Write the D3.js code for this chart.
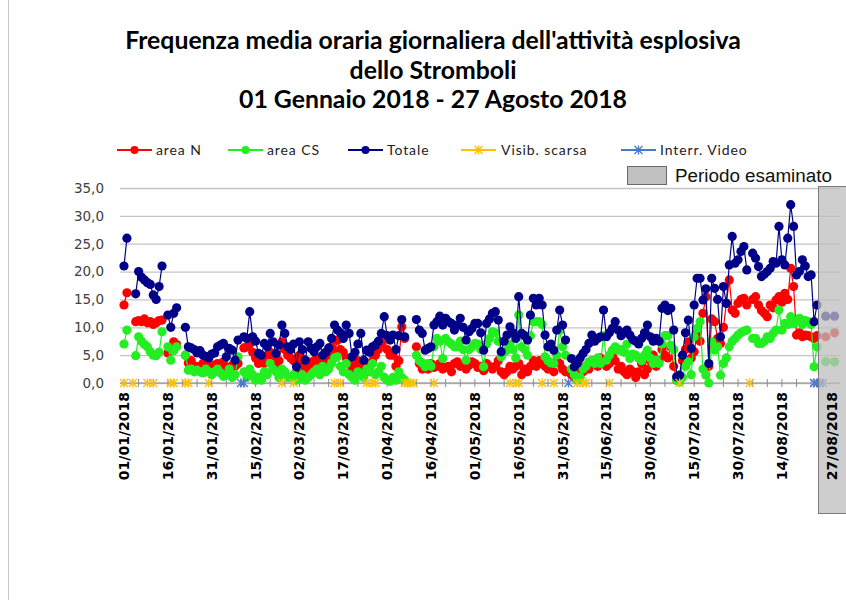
<!DOCTYPE html>
<html>
<head>
<meta charset="utf-8">
<script src="https://cdn.jsdelivr.net/npm/d3@7"></script>
<style>
  body { margin: 0; background: #fff; }
</style>
</head>
<body>
<div class="chart"></div>
<script>
// daily values, index = days since 01/01/2018
const areaN = [
  14, 16.2, null, null, 11, 11.2, 11, 11.5, 10.8, 11,
  10.5, 10.8, 11.2, 11.3, null, 5.4, 6.0, 7.4, 6.9, null,
  null, 5.0, 3.6, 4.0, 3.0, 3.0, 2.5, 3.5, 2.8, 3.0,
  2.5, 3.2, 3.5, 3.0, 3.8, 2.8, 2.0, 3.2, 3.0, 3.5,
  null, 6.3, 6.5, 7.0, 5.5, 4.5, 3.5, 4.7, 3.5, 5.0,
  5.5, 4.0, 3.0, 4.0, 7.4, 6.0, 5.0, 4.5, 4.0, 2.0, 5.0,
  3.5, 2.5, 3.8, 3.2, 4.0, 4.5, 3.5, 4.0, 3.0, 5.0,
  6.5, 5.5, 7.7, 6.0, 5.5, 4.5, 3.8, 2.6, 3.0, 4.0,
  3.5, 2.5, 2.0, 3.0, 4.0, 5.0, 6.0, 7.1, 8.6, 6.0,
  5.0, 5.0, 3.0, 4.0, 10.1, 8.0, null, null, null, 6.5,
  3.5, 2.5, 3.0, 2.5, 3.5, 2.8, 3.0, 3.5, 2.5, 2.8,
  3.0, 2.0, 3.5, 3.8, 3.0, 3.2, 2.5, 3.2, 3.8, 3.5, 2.8,
  3.0, 2.2, 3.5, 3.0, 2.5, 3.0, 4.0, 2.0, 1.5, 2.0,
  3.0, 2.5, 3.0, 3.5, 1.5, 2.5, 2.0, 3.0, 4.0, 3.0,
  4.0, 3.5, 3.0, 2.5, 3.0, 2.0, 4.0, 3.5, 2.5, 2.0,
  null, 1.5, 1.0, 2.5, 3.0, 2.0, 3.0, 2.5, 4.0, 3.5,
  3.0, 4.5, 4.0, 3.0, 3.5, 5.0, 4.0, 2.5, 3.0, 2.0,
  1.5, 2.5, 2.0, 1.0, 2.0, 3.5, 1.5, 2.5, 4.0, 5.0, 3.0,
  4.0, 6.0, 5.0, 4.5, 6.5, 3.0, 0.5, 0.5, 4.0, 6.0,
  7.4, 4.5, 5.6, 9.0, 7.5, 12.5, 15.5, 3.0, 11.5, 11.0,
  8.0, 7.1, 10.0, 14.3, 18.5, 13.1, 12.5, 14.3, 15.0, 15.2,
  14.0, null, 15.0, 15.5, 14.0, 13.0, 12.5, 11.9, 14.0, 13.5,
  14.9, 15.5, 14.5, 16.1, 15.0, 20.6, 17.3, 8.6, 9.0, 8.3,
  8.6, 8.5, 8.3, 8.0, 8.5, null, null, 8.3, null, null, 9.0
];

const areaCS = [
  7.0, 9.5, null, null, 4.9, 8.3, 7.5, 6.9, 6.5, 5.6,
  5.0, 4.9, 5.5, 9.2, null, 6.5, 4.1, 5.8, 6.5, null,
  null, 5.0, 2.3, 2.5, 2.0, 2.3, 2.0, 1.8, 2.5, 2.0,
  1.5, 2.0, 2.5, 1.8, 1.2, 1.5, 2.5, 1.0, 1.5, 4.7,
  null, 2.0, 1.0, 2.5, 1.5, 0.5, 1.0, 0.5, 2.0, 1.5,
  3.5, 2.5, 2.0, 1.0, 2.5, 2.0, 1.0, 1.0, 1.5, 0.5, 0.8,
  1.5, 0.5, 1.0, 1.5, 2.0, 2.5, 1.5, 3.0, 2.0, 2.5,
  3.5, 4.5, 4.7, 3.0, 2.0, 3.5, 1.5, 1.0, 0.5, 2.0,
  1.5, 1.0, 2.5, 2.0, 3.5, 1.5, 2.0, 3.0, 1.0, 0.5,
  0.3, 1.0, 0.5, 2.0, 1.0, 0.5, null, null, null, 5.0,
  4.0, 3.6, 2.9, 3.5, 3.0, 6.5, 8.0, 7.5, 4.4, 8.0,
  7.4, 7.0, 6.5, 6.5, 7.5, 6.0, 4.1, 6.0, 6.5, 7.1, 7.0,
  6.0, 2.9, 7.0, 8.0, 9.2, 9.0, 7.5, 4.7, 5.5, 5.9,
  7.0, 6.0, 4.5, 12.2, 6.5, 6.0, 5.0, 8.5, 11.0, 11.0,
  11.0, 10.5, 4.7, 4.0, 3.6, 3.5, 5.0, 9.5, 6.5, 5.0,
  null, 2.5, 1.5, 0.5, 1.0, 2.5, 3.0, 3.8, 4.0, 3.5,
  4.5, 3.5, 8.5, 4.1, 5.0, 5.9, 6.5, 5.9, 6.0, 5.5,
  7.0, 4.4, 5.2, 5.0, 4.5, 4.0, 5.0, 5.9, 4.5, 3.5, 4.1,
  3.5, 7.0, 8.5, 8.5, 6.8, 6.0, 0.5, 0.2, 1.0, 3.0,
  3.8, 1.5, 8.3, 9.8, 11.0, 2.5, 1.4, 0.0, 7.4, 5.9,
  6.5, 1.4, 3.5, 4.5, 6.5, 7.5, 8.0, 8.6, 9.0, 9.3,
  9.5, null, 8.0, 8.0, 7.1, 7.1, 7.5, 8.3, 8.0, 8.9,
  9.5, 13.1, 9.5, 10.7, 10.5, 11.9, 10.7, 11.0, 11.6, 10.5,
  11.2, 11.0, 10.5, 2.9, 6.5, null, null, 3.8, null, null, 3.8
];

const totale = [
  21, 26, null, null, 16, 20, 19, 18.5, 18, 17.7,
  15.8, 15, 17.3, 21, null, 12.2, 10, 12.5, 13.5, null,
  null, 10, 6.5, 6.3, 6, 5.4, 5.8, 5.0, 4.8, 4.5,
  5.2, 5.4, 6.5, 6.8, 7.1, 4.7, 6.2, 5.9, 4.1, 7.7,
  null, 8.3, 8.0, 12.8, 8.3, 7.5, 5.3, 5.0, 7.1, 6.5,
  8.9, 7.4, 5.3, 6.8, 10.4, 8.9, 6.5, 6.0, 7.0, 2.9, 7.4,
  6.0, 4.1, 7.4, 6.2, 5.6, 6.5, 7.1, 5.0, 5.5, 6.3,
  8.0, 10.4, 9.5, 9.0, 8.0, 10.4, 8.9, 4.7, 5.5, 7.0,
  8.9, 4.1, 5.9, 5.5, 6.5, 6.8, 7.5, 8.9, 11.9, 8.5,
  7.7, 8.6, 6.0, 8.5, 11.4, 8.3, null, null, null, 11.4,
  9.5, 8.9, 5.9, 6.2, 6.5, 10.4, 11.0, 12.0, 10.4, 11.6,
  11.0, 10.7, 9.5, 10.4, 11.6, 10.0, 7.7, 9.2, 9.8, 10.7, 10.7,
  9.0, 5.9, 10.7, 11.5, 12.5, 12.8, 11.3, 5.6, 7.5, 8.6,
  10.1, 9.0, 8.0, 15.5, 8.9, 8.5, 7.7, 12.2, 15.2, 14.0,
  15.2, 14.0, 8.6, 6.5, 7.0, 5.9, 9.5, 13.1, 10.4, 7.7,
  null, 4.4, 2.9, 3.5, 4.5, 5.3, 6.0, 7.1, 8.6, 7.5,
  8.0, 8.3, 13.1, 8.3, 9.0, 9.8, 11.0, 9.5, 8.5, 9.0,
  9.5, 8.6, 7.8, 7.5, 7.0, 8.0, 9.0, 10.4, 8.3, 7.5, 8.0,
  7.5, 13.4, 14.0, 13.0, 13.4, 9.5, 1.1, 1.4, 5.0, 9.0,
  11.3, 6.2, 14.0, 18.8, 18.8, 14.9, 16.9, 3.5, 18.8, 17.0,
  15.0, 8.3, 17.3, 14.3, 21.2, 26.3, 21.5, 22.1, 23.6, 24.5,
  20.3, null, 23.3, 22.4, 20.9, 19.1, 19.5, 20.0, 20.6, 21.8,
  21.5, 28.1, 22.1, 21.2, 26.0, 32.0, 28.1, 19.4, 20.0, 22.1,
  21.0, 19.1, 19.4, 11.0, 14.0, null, null, 12.0, null, null, 12.0
];

// days marked at 0
const visibDays = [0, 3, 8, 10, 16, 17, 21, 22, 29, 54, 58, 72, 74, 83, 85, 86,
  96, 97, 98, 99, 106, 132, 134, 135, 143, 147, 155, 157, 158, 166, 190, 214];
const interrDays = [40, 41, 152, 236, 237, 238, 239];

const yTicks = [0, 5, 10, 15, 20, 25, 30, 35];
const xLabelDays = [0, 15, 30, 45, 60, 75, 90, 105, 120, 135, 150, 165, 180, 195, 210, 225];
const xLabels = ["01/01/2018", "16/01/2018", "31/01/2018", "15/02/2018", "02/03/2018",
  "17/03/2018", "01/04/2018", "16/04/2018", "01/05/2018", "16/05/2018", "31/05/2018",
  "15/06/2018", "30/06/2018", "15/07/2018", "30/07/2018", "14/08/2018"];
const lastLabel = "27/08/2018";
const titleLines = ["Frequenza media oraria giornaliera dell'attività esplosiva",
  "dello Stromboli", "01 Gennaio 2018 - 27 Agosto 2018"];

const series = [
  {name: "area N", values: areaN, color: "#ff0000"},
  {name: "area CS", values: areaCS, color: "#22ee22"},
  {name: "Totale", values: totale, color: "#000088"}
];

const width = 846, height = 600;
const plot = {left: 120, right: 840, top: 188, bottom: 383};

const svg = d3.select(".chart")
  .append("svg")
  .attr("width", width)
  .attr("height", height)
  .style("font-family", "Lato, sans-serif");

const x = d3.scaleLinear().domain([0, 245]).range([124, 124 + 2.924 * 245]);
const y = d3.scaleLinear().domain([0, 35]).range([plot.bottom, plot.top]);

// frame line on the left
svg.append("line")
  .attr("x1", 8.5).attr("x2", 8.5)
  .attr("y1", 0).attr("y2", height)
  .attr("stroke", "#c8c8c8");

// title
const fitText = (sel, target) => {
  let fs = parseFloat(sel.style("font-size"));
  const w = sel.node().getComputedTextLength();
  sel.style("font-size", (fs * target / w) + "px");
};
svg.selectAll("text.title")
  .data(titleLines)
  .enter()
  .append("text")
  .attr("class", "title")
  .attr("x", 433)
  .attr("y", (d, i) => 49 + i * 29.5)
  .attr("text-anchor", "middle")
  .style("font-weight", "bold")
  .style("font-size", "20px")
  .attr("fill", "#000")
  .text(d => d);
fitText(svg.select("text.title"), 616);
const tfs = svg.select("text.title").style("font-size");
svg.selectAll("text.title").style("font-size", tfs);

// gridlines + y labels
svg.append("g")
  .attr("class", "y-axis")
  .attr("transform", `translate(${plot.left}, 0)`)
  .call(d3.axisLeft(y).tickValues(yTicks).tickSize(-(plot.right - plot.left))
    .tickFormat(d => d3.format(".1f")(d).replace(".", ",")));
svg.select(".y-axis path").remove();
svg.selectAll(".y-axis line")
  .attr("stroke", "#c4c4c4")
  .attr("stroke-width", 1.3);
svg.selectAll(".y-axis text")
  .attr("x", -16)
  .style("font-family", "'DejaVu Sans', sans-serif")
  .style("font-size", "13.5px")
  .attr("fill", "#404040");

// x axis line and tick crosses
svg.append("line")
  .attr("x1", plot.left).attr("x2", plot.right)
  .attr("y1", y(0)).attr("y2", y(0))
  .attr("stroke", "#8c8c8c").attr("stroke-width", 1.2);
svg.append("g")
  .selectAll("line")
  .data(d3.range(0, 236, 5))
  .enter()
  .append("line")
  .attr("x1", d => x(d)).attr("x2", d => x(d))
  .attr("y1", y(0) - 4).attr("y2", y(0) + 4)
  .attr("stroke", "#8c8c8c");

// x labels
svg.append("g")
  .selectAll("text")
  .data(xLabelDays)
  .enter()
  .append("text")
  .attr("transform", d => `translate(${x(d) + 5}, 392) rotate(-90)`)
  .attr("text-anchor", "end")
  .style("font-family", "'DejaVu Sans', sans-serif")
  .style("font-weight", "bold")
  .style("font-size", "14px")
  .attr("fill", "#000")
  .text((d, i) => xLabels[i]);

// data series
const line = d3.line()
  .defined(d => d != null)
  .x((d, i) => x(i))
  .y(d => y(d));

series.forEach(s => {
  svg.append("path")
    .datum(s.values)
    .attr("fill", "none")
    .attr("stroke", s.color)
    .attr("stroke-width", 1.2)
    .attr("d", line);
  svg.append("g")
    .selectAll("circle")
    .data(s.values.map((v, i) => ({i, v})).filter(d => d.v != null))
    .enter()
    .append("circle")
    .attr("cx", d => x(d.i))
    .attr("cy", d => y(d.v))
    .attr("r", 4.6)
    .attr("fill", s.color);
});

// star markers
const star = "M-4,-4L4,4M-4,4L4,-4M0,-4.5L0,4.5";
const markerRows = [
  {days: visibDays, color: "#ffc000"},
  {days: interrDays, color: "#4a78d0"}
];
markerRows.forEach(m => {
  const daily = d3.range(0, 245).map(i => m.days.includes(i) ? 0 : null);
  svg.append("path")
    .datum(daily)
    .attr("fill", "none")
    .attr("stroke", m.color)
    .attr("stroke-width", 1.5)
    .attr("d", line);
  svg.append("g")
    .selectAll("path")
    .data(m.days)
    .enter()
    .append("path")
    .attr("transform", d => `translate(${x(d)}, ${y(0)})`)
    .attr("d", star)
    .attr("stroke", m.color)
    .attr("stroke-width", 1.3)
    .attr("fill", "none");
});

// examined period box
svg.append("rect")
  .attr("x", 818.5).attr("y", 186.5)
  .attr("width", 40).attr("height", 327)
  .attr("fill", "#bdbdbd")
  .attr("fill-opacity", 0.75)
  .attr("stroke", "#7a7a7a");
svg.append("text")
  .attr("transform", `translate(837, 392) rotate(-90)`)
  .attr("text-anchor", "end")
  .style("font-family", "'DejaVu Sans', sans-serif")
  .style("font-weight", "bold")
  .style("font-size", "14px")
  .attr("fill", "#000")
  .text(lastLabel);

// legend
const legendItems = [
  {name: "area N", color: "#ff0000", type: "dot", lx: 117, tx: 156},
  {name: "area CS", color: "#22ee22", type: "dot", lx: 228, tx: 267},
  {name: "Totale", color: "#000088", type: "dot", lx: 348, tx: 387},
  {name: "Visib. scarsa", color: "#ffc000", type: "star", lx: 461, tx: 501},
  {name: "Interr. Video", color: "#4a78d0", type: "star", lx: 621, tx: 660}
];
const lg = svg.append("g").attr("class", "legend");
const items = lg.selectAll("g")
  .data(legendItems)
  .enter()
  .append("g");
items.append("line")
  .attr("x1", d => d.lx).attr("x2", d => d.lx + 35)
  .attr("y1", 150).attr("y2", 150)
  .attr("stroke", d => d.color).attr("stroke-width", 2);
items.filter(d => d.type === "dot").append("circle")
  .attr("cx", d => d.lx + 17.5).attr("cy", 150).attr("r", 4)
  .attr("fill", d => d.color);
items.filter(d => d.type === "star").append("path")
  .attr("transform", d => `translate(${d.lx + 17.5}, 150)`)
  .attr("d", star)
  .attr("stroke", d => d.color).attr("stroke-width", 1.3);
items.append("text")
  .attr("x", d => d.tx).attr("y", 155)
  .style("font-size", "14px")
  .style("letter-spacing", "0.9px")
  .attr("fill", "#222")
  .text(d => d.name);

lg.append("rect")
  .attr("x", 627.5).attr("y", 166.5)
  .attr("width", 39).attr("height", 18)
  .attr("fill", "#c0c0c0")
  .attr("stroke", "#6a6a6a");
const pe = lg.append("text")
  .attr("x", 675).attr("y", 182)
  .style("font-family", "'Liberation Sans', Arial, sans-serif")
  .style("font-size", "17px")
  .attr("fill", "#111")
  .text("Periodo esaminato");
fitText(pe, 157);
</script>
</body>
</html>
